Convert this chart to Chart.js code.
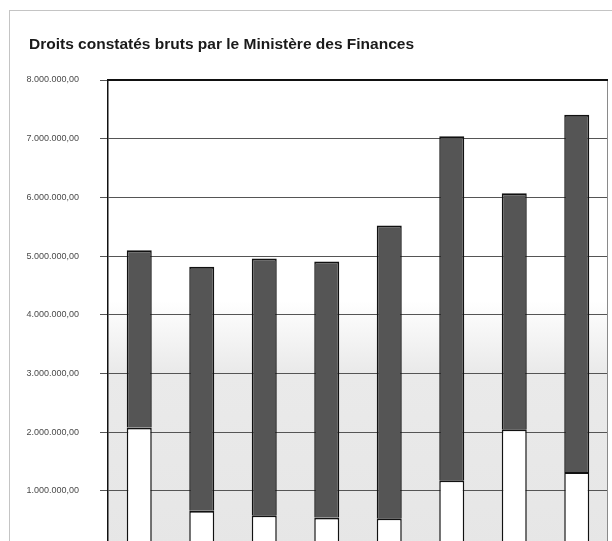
<!DOCTYPE html>
<html>
<head>
<meta charset="utf-8">
<script src="https://cdn.jsdelivr.net/npm/chart.js@4/dist/chart.umd.min.js"></script>
<style>
  html, body { margin: 0; padding: 0; background: #fff; overflow: hidden; }
  canvas { position: absolute; left: 0; top: 0; }
</style>
</head>
<body>
<canvas id="chart" width="612" height="576"></canvas>
<script>
// values (bottom part / total height of each bar)
const categories = ['1', '2', '3', '4', '5', '6', '7', '8'];
const lowerPart = [2080000, 660000, 585000, 546000, 534000, 1180000, 2050000, 1320000];
const totals = [5100000, 4820000, 4960000, 4910000, 5520000, 7040000, 6070000, 7410000];
const upperPart = totals.map((t, i) => t - lowerPart[i]);
const yTicks = [0, 1000000, 2000000, 3000000, 4000000, 5000000, 6000000, 7000000, 8000000];
const titleText = 'Droits constatés bruts par le Ministère des Finances';

// 8000000 -> "8.000.000,00"
function fmt(v) {
    const s = String(Math.round(v)).replace(/\B(?=(\d{3})+(?!\d))/g, '.');
    return s + ',00';
}

// light frame + plot background (white at top, grey lower down) + title
const background = {
    id: 'background',
    beforeDraw(chart) {
        const ctx = chart.ctx;
        const a = chart.chartArea;
        ctx.save();
        ctx.strokeStyle = '#c4c4c4';
        ctx.lineWidth = 1;
        ctx.strokeRect(9.5, 10.5, 700, 700);
        const g = ctx.createLinearGradient(0, a.top, 0, a.bottom);
        g.addColorStop(0, '#ffffff');
        g.addColorStop(0.47, '#ffffff');
        g.addColorStop(0.62, '#eaeaea');
        g.addColorStop(1, '#e6e6e6');
        ctx.fillStyle = g;
        ctx.fillRect(a.left, a.top, a.right - a.left, a.bottom - a.top);
        ctx.restore();
    },
    afterDatasetsDraw(chart) {
        const ctx = chart.ctx;
        const a = chart.chartArea;
        ctx.save();
        ctx.strokeStyle = '#8a8a8a';
        ctx.lineWidth = 1;
        ctx.beginPath();
        ctx.moveTo(a.right - 0.5, a.top);
        ctx.lineTo(a.right - 0.5, a.bottom);
        ctx.stroke();
        ctx.strokeStyle = '#111';
        ctx.lineWidth = 2;
        ctx.beginPath();
        ctx.moveTo(a.left, a.top);
        ctx.lineTo(a.right, a.top);
        ctx.stroke();
        // title
        ctx.fillStyle = '#1a1a1a';
        ctx.font = 'bold 15.5px "Liberation Sans"';
        ctx.textBaseline = 'middle';
        ctx.textAlign = 'left';
        ctx.fillText(titleText, 29, 45);
        ctx.restore();
    }
};

new Chart(document.getElementById('chart'), {
    type: 'bar',
    data: {
        labels: categories,
        datasets: [{
            data: lowerPart,
            backgroundColor: '#ffffff',
            borderColor: '#111',
            borderWidth: { top: 2, left: 1.5, right: 1.5, bottom: 0 },
            borderSkipped: false,
            barPercentage: 0.5,
            categoryPercentage: 0.8
        }, {
            data: upperPart,
            backgroundColor: '#555555',
            borderColor: '#111',
            borderWidth: { top: 2, left: 1.5, right: 1.5, bottom: 0 },
            borderSkipped: false,
            barPercentage: 0.5,
            categoryPercentage: 0.8
        }]
    },
    options: {
        responsive: false,
        animation: false,
        layout: { padding: { left: 16, right: 4, top: 80, bottom: 0 } },
        plugins: {
            legend: { display: false },
            tooltip: { enabled: false },
            title: { display: false }
        },
        scales: {
            x: {
                display: false,
                stacked: true
            },
            y: {
                stacked: true,
                min: 0,
                max: 8000000,
                afterFit(axis) { axis.width = 92; },
                afterBuildTicks(axis) { axis.ticks = yTicks.map(v => ({ value: v })); },
                border: { display: true, color: '#111', width: 1.5 },
                grid: { color: '#555', lineWidth: 1, tickLength: 8 },
                ticks: {
                    padding: 21,
                    color: '#4a4a4a',
                    font: { family: 'Liberation Sans', size: 9 },
                    callback: v => fmt(v)
                }
            }
        }
    },
    plugins: [background]
});
</script>
</body>
</html>
